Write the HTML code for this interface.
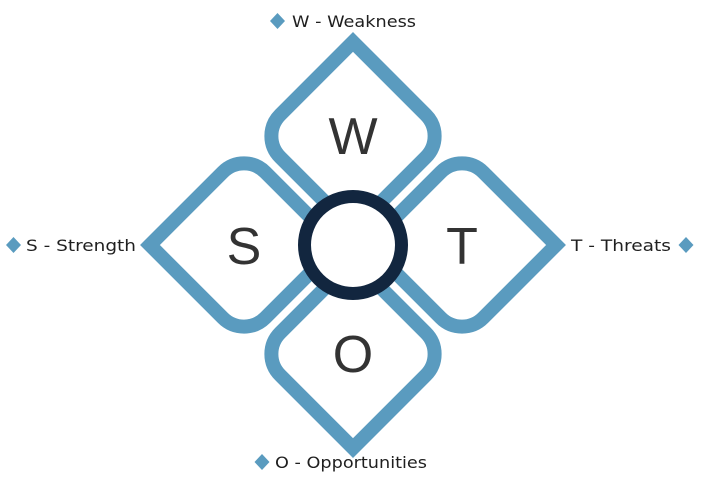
<!DOCTYPE html>
<html><head><meta charset="utf-8"><style>
html,body{margin:0;padding:0;background:#fff}
svg{display:block}
.l{font-family:"DejaVu Sans","Liberation Sans",sans-serif;font-size:16px;fill:#1f1f1f}
.b{font-family:"Liberation Sans",sans-serif;font-size:52px;fill:#333}
</style></head><body>
<svg width="705" height="481" viewBox="0 0 705 481" xmlns="http://www.w3.org/2000/svg">
<defs>
<path id="p" d="M -66.5 -66.5 L 36.5 -66.5 A 30 30 0 0 1 66.5 -36.5 L 66.5 36.5 A 30 30 0 0 1 36.5 66.5 L -36.5 66.5 A 30 30 0 0 1 -66.5 36.5 Z" fill="#fff" stroke="#5a9bbf" stroke-width="14" stroke-linejoin="miter" stroke-miterlimit="10"/>
</defs>
<g transform="translate(353,136) rotate(45)"><use href="#p"/></g>
<g transform="translate(462,245) rotate(135)"><use href="#p"/></g>
<g transform="translate(353,354) rotate(225)"><use href="#p"/></g>
<g transform="translate(244,245) rotate(315)"><use href="#p"/></g>
<circle cx="353" cy="245" r="48.5" fill="#fff" stroke="#12263f" stroke-width="13"/>
<text class="b" x="353" y="154" text-anchor="middle">W</text>
<text class="b" x="244" y="264" text-anchor="middle">S</text>
<text class="b" x="462" y="264" text-anchor="middle">T</text>
<text class="b" x="353" y="372" text-anchor="middle">O</text>
<g fill="#5a9bbf">
<polygon points="277.5,13 285,21 277.5,29 270,21"/>
<polygon points="13.5,237 21,245 13.5,253 6,245"/>
<polygon points="686,237 693.5,245 686,253 678.5,245"/>
<polygon points="262,454 269.5,462 262,470 254.5,462"/>
</g>
<text class="l" x="292" y="27" textLength="124" lengthAdjust="spacingAndGlyphs">W - Weakness</text>
<text class="l" x="26" y="251" textLength="110" lengthAdjust="spacingAndGlyphs">S - Strength</text>
<text class="l" x="571" y="251" textLength="100" lengthAdjust="spacingAndGlyphs">T - Threats</text>
<text class="l" x="275" y="468" textLength="152" lengthAdjust="spacingAndGlyphs">O - Opportunities</text>
</svg>
</body></html>
